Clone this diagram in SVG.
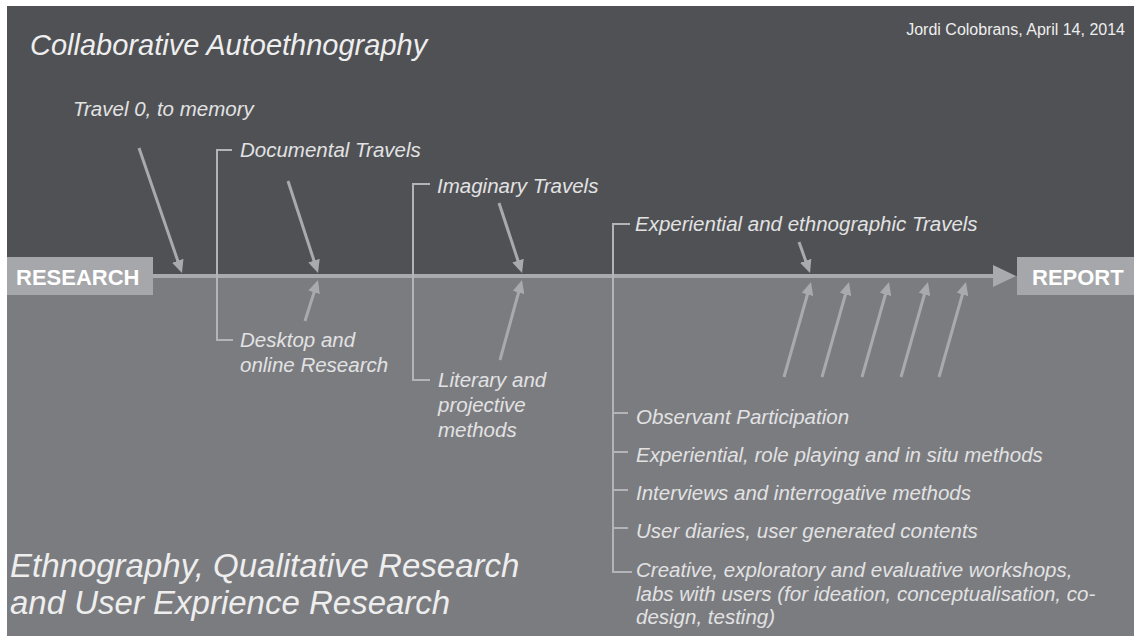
<svg xmlns="http://www.w3.org/2000/svg" width="1134" height="636" viewBox="0 0 1134 636">
  <style>
    .lbl { font-family: "Liberation Sans", Arial, sans-serif; font-size: 20.5px; font-style: italic; fill: #e2e2e3; }
    .ttl { font-family: "Liberation Sans", Arial, sans-serif; fill: #eeeeee; }
    .box { fill: #a6a7aa; }
    .boxtxt { font-family: "Liberation Sans", Arial, sans-serif; font-size: 22px; font-weight: bold; fill: #ffffff; }
    .arr { stroke: #a9aaad; stroke-width: 3; fill: none; marker-end: url(#ah); }
    .brk { stroke: #b3b4b7; stroke-width: 2; fill: none; }
  </style>
  <defs>
    <marker id="ah" markerUnits="userSpaceOnUse" markerWidth="13" markerHeight="12" refX="1" refY="6" orient="auto">
      <path d="M0,0 L13,6 L0,12 z" fill="#a9aaad"/>
    </marker>
  </defs>

  <rect x="0" y="0" width="1134" height="636" fill="#ffffff"/>
  <rect x="7" y="6" width="1127" height="270" fill="#505155"/>
  <rect x="7" y="276" width="1127" height="360" fill="#7b7c80"/>

  <g id="titles">
    <text class="ttl" x="30" y="55" font-size="29" font-style="italic">Collaborative Autoethnography</text>
    <text class="ttl" x="1125" y="35" font-size="16" text-anchor="end" fill="#d8d8d8">Jordi Colobrans, April 14, 2014</text>
    <text class="ttl" x="10" y="577" font-size="33" font-style="italic" fill="#e0e0e1">Ethnography, Qualitative Research</text>
    <text class="ttl" x="10" y="614" font-size="33" font-style="italic" fill="#e0e0e1">and User Exprience Research</text>
  </g>

  <g id="connectors">
    <line x1="153" y1="276" x2="996" y2="276" stroke="#a9aaad" stroke-width="4"/>
    <polygon points="993,265 1016,276 993,287" fill="#a9aaad"/>
    <line class="arr" x1="139" y1="148" x2="178.1" y2="261.7"/>
    <line class="arr" x1="288" y1="181" x2="314.3" y2="261.6"/>
    <line class="arr" x1="305" y1="321" x2="314.4" y2="291.4"/>
    <line class="arr" x1="499" y1="203" x2="518.3" y2="261.6"/>
    <line class="arr" x1="500" y1="360" x2="518.8" y2="291.6"/>
    <line class="arr" x1="799" y1="242" x2="806" y2="261.7"/>
    <line class="arr" x1="784" y1="377" x2="807.7" y2="293.5"/>
    <line class="arr" x1="822" y1="377" x2="845.7" y2="293.5"/>
    <line class="arr" x1="862" y1="377" x2="885.7" y2="293.5"/>
    <line class="arr" x1="901" y1="377" x2="924.7" y2="293.5"/>
    <line class="arr" x1="939" y1="377" x2="962.7" y2="293.5"/>
    <path class="brk" d="M232,150 H217 V340 H233"/>
    <path class="brk" d="M430,184 H413 V380 H430"/>
    <path class="brk" d="M630,224 H613 V572 H632"/>
    <path class="brk" d="M613,413 H628 M613,452 H628 M613,490 H628 M613,528 H628"/>
  </g>

  <g id="research">
    <rect class="box" x="7" y="257" width="146" height="38"/>
    <text class="boxtxt" x="16" y="285">RESEARCH</text>
  </g>
  <g id="report">
    <rect class="box" x="1017" y="257" width="117" height="38"/>
    <text class="boxtxt" x="1032" y="285">REPORT</text>
  </g>

  <g id="travel0"><text class="lbl" x="73" y="116">Travel 0, to memory</text></g>
  <g id="documental"><text class="lbl" x="240" y="157">Documental Travels</text></g>
  <g id="desktop">
    <text class="lbl" x="240" y="347">Desktop and</text>
    <text class="lbl" x="240" y="372">online Research</text>
  </g>
  <g id="imaginary"><text class="lbl" x="437" y="193">Imaginary Travels</text></g>
  <g id="literary">
    <text class="lbl" x="438" y="387">Literary and</text>
    <text class="lbl" x="438" y="412">projective</text>
    <text class="lbl" x="438" y="437">methods</text>
  </g>
  <g id="experiential"><text class="lbl" x="635" y="231">Experiential and ethnographic Travels</text></g>
  <g id="observant"><text class="lbl" x="636" y="424">Observant Participation</text></g>
  <g id="roleplaying"><text class="lbl" x="636" y="462">Experiential, role playing and in situ methods</text></g>
  <g id="interviews"><text class="lbl" x="636" y="500">Interviews and interrogative methods</text></g>
  <g id="diaries"><text class="lbl" x="636" y="538">User diaries, user generated contents</text></g>
  <g id="workshops">
    <text class="lbl" x="636" y="577">Creative, exploratory and evaluative workshops,</text>
    <text class="lbl" x="636" y="601">labs with users (for ideation, conceptualisation, co-</text>
    <text class="lbl" x="636" y="624">design, testing)</text>
  </g>
</svg>
